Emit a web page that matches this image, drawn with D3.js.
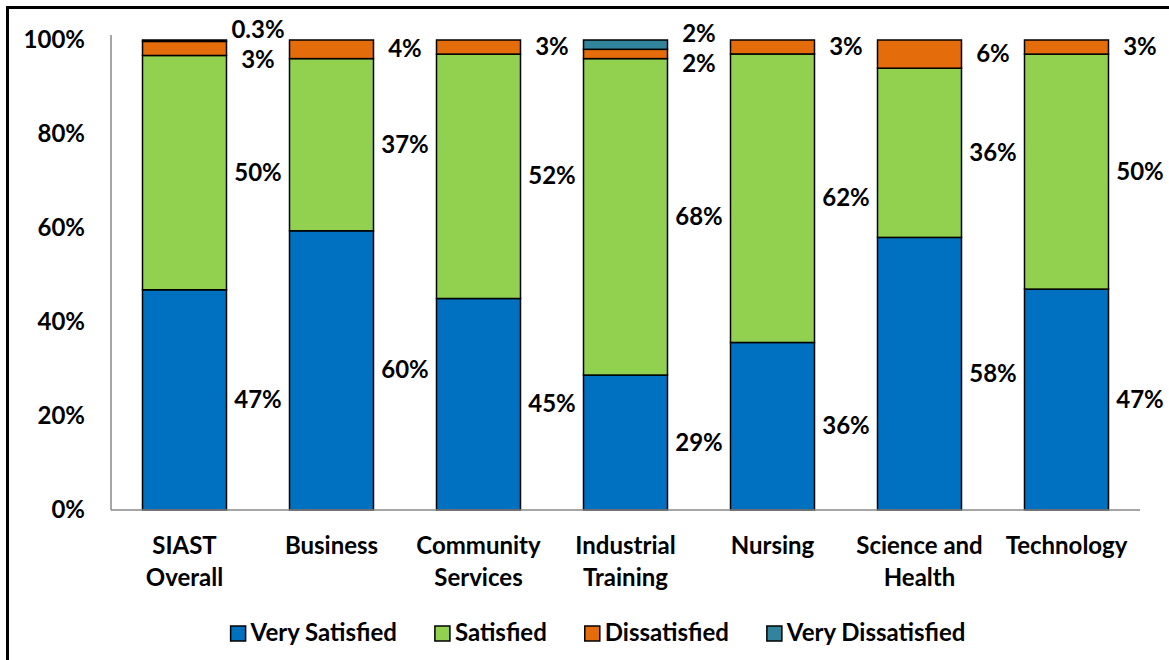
<!DOCTYPE html>
<html>
<head>
<meta charset="utf-8">
<script src="https://cdn.jsdelivr.net/npm/d3@7"></script>
<style>
  html, body { margin: 0; padding: 0; background: #fff; }
  svg { display: block; }
  text { font-family: Lato, "Open Sans", sans-serif; font-weight: 700; fill: #000; }
</style>
</head>
<body>
<svg id="chart" width="1169" height="660"></svg>
<script>
const categories = ["SIAST Overall", "Business", "Community Services", "Industrial Training", "Nursing", "Science and Health", "Technology"];
const categoryLines = [["SIAST", "Overall"], ["Business"], ["Community", "Services"], ["Industrial", "Training"], ["Nursing"], ["Science and", "Health"], ["Technology"]];
const seriesNames = ["Very Satisfied", "Satisfied", "Dissatisfied", "Very Dissatisfied"];
const verySatisfied    = [47, 60, 45, 29, 36, 58, 47];
const satisfied        = [50, 37, 52, 68, 62, 36, 50];
const dissatisfied     = [3, 4, 3, 2, 3, 6, 3];
const veryDissatisfied = [0.3, 0, 0, 2, 0, 0, 0];
const yTicks = [0, 0.2, 0.4, 0.6, 0.8, 1.0];
const colors = ["#0070C0", "#92D050", "#E46C0A", "#31849B"];

const svg = d3.select("#chart");
const W = 1169, H = 660;
const FS = 24;

// outer frame (right / bottom edges fall outside the picture)
svg.append("rect").attr("x", 7.5).attr("y", 7.5).attr("width", W + 20).attr("height", H + 20)
  .attr("fill", "none").attr("stroke", "#000").attr("stroke-width", 3);

const plot = { left: 111, right: 1140, top: 40, bottom: 510 };

const rows = categories.map((c, i) => ({
  cat: c,
  "Very Satisfied": verySatisfied[i],
  "Satisfied": satisfied[i],
  "Dissatisfied": dissatisfied[i],
  "Very Dissatisfied": veryDissatisfied[i]
}));

const stack = d3.stack().keys(seriesNames).offset(d3.stackOffsetExpand);
const stacked = stack(rows);

const x = d3.scaleBand().domain(categories).range([plot.left, plot.right])
  .paddingInner(0.4286).paddingOuter(0.2143);
const y = d3.scaleLinear().domain([0, 1]).range([plot.bottom, plot.top]);

// y axis
const yAxis = d3.axisLeft(y).tickValues(yTicks).tickFormat(d3.format(".0%")).tickSize(0).tickPadding(26);
const yg = svg.append("g").attr("transform", `translate(${plot.left},0)`).call(yAxis);
yg.select(".domain").remove();
yg.selectAll("text").attr("font-size", FS).attr("font-family", "Lato").attr("font-weight", 700).attr("fill", "#000");

// value axis line
svg.append("line").attr("x1", plot.left).attr("x2", plot.left).attr("y1", 35).attr("y2", plot.bottom)
  .attr("stroke", "#898989").attr("stroke-width", 1.5);

// bars
const groups = svg.append("g").selectAll("g").data(stacked).join("g").attr("fill", (d, i) => colors[i]);
groups.selectAll("rect").data(d => d.map(s => ({ s, cat: s.data.cat }))).join("rect")
  .attr("x", d => x(d.cat))
  .attr("width", x.bandwidth())
  .attr("y", d => y(d.s[1]))
  .attr("height", d => Math.max(0, y(d.s[0]) - y(d.s[1])))
  .attr("stroke", "#000").attr("stroke-width", 1.5)
  .attr("display", d => (d.s[1] - d.s[0]) > 0 ? null : "none");

// category axis line
const xAxis = d3.axisBottom(x).tickSize(0).tickFormat("");
const xg = svg.append("g").attr("transform", `translate(0,${plot.bottom})`).call(xAxis);
xg.select(".domain").attr("stroke", "#898989").attr("stroke-width", 1.5)
  .attr("d", `M${plot.left},0H${plot.right}`);

// category labels
const catG = svg.append("g");
categories.forEach((c, i) => {
  const t = catG.append("text").attr("text-anchor", "middle").attr("font-size", FS)
    .attr("x", x(c) + x.bandwidth() / 2).attr("y", 554);
  categoryLines[i].forEach((ln, j) => {
    t.append("tspan").attr("x", x(c) + x.bandwidth() / 2).attr("dy", j === 0 ? 0 : 32).text(ln);
  });
});

// data labels (to the right of each bar, centred in the gap)
const labelG = svg.append("g");
const step = x.step();
const minSep = 30;
categories.forEach((c, ci) => {
  const labs = [];
  stacked.forEach((ser, si) => {
    const s = ser[ci];
    const raw = rows[ci][seriesNames[si]];
    if (raw > 0) labs.push({ y: y((s[0] + s[1]) / 2), text: raw + "%" });
  });
  // resolve overlaps from top down
  for (let k = labs.length - 1; k > 0; k--) {
    const upper = labs[k], lower = labs[k - 1];
    if (lower.y - upper.y < minSep) {
      const mid = (lower.y + upper.y) / 2;
      upper.y = mid - minSep / 2; lower.y = mid + minSep / 2;
    }
  }
  labs.forEach(l => {
    labelG.append("text").attr("text-anchor", "middle").attr("font-size", FS)
      .attr("x", x(c) + x.bandwidth() / 2 + step / 2).attr("y", l.y + 8).text(l.text);
  });
});

// legend
const legG = svg.append("g");
const items = seriesNames.map((n, i) => {
  const g = legG.append("g");
  g.append("rect").attr("x", 0).attr("y", -15).attr("width", 15).attr("height", 15)
    .attr("fill", colors[i]).attr("stroke", "#000").attr("stroke-width", 1.5);
  const t = g.append("text").attr("x", 20).attr("y", 0).attr("font-size", FS).text(n);
  return { g, w: 20 + t.node().getComputedTextLength() };
});
const gap = 38;
const total = d3.sum(items, d => d.w) + gap * (items.length - 1);
let cx = 598 - total / 2;
items.forEach(it => { it.g.attr("transform", `translate(${cx},641)`); cx += it.w + gap; });
</script>
</body>
</html>
